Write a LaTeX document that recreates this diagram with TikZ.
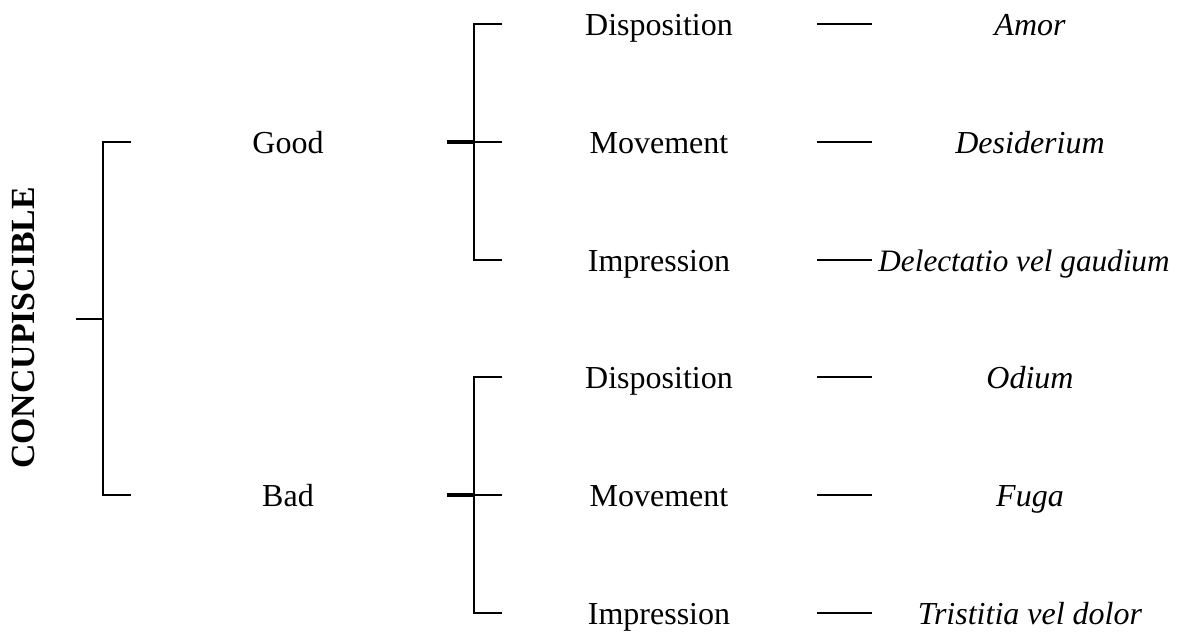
\documentclass[tikz,border=0pt]{standalone}
\usepackage{fontspec}
\setmainfont{Liberation Serif}
\begin{document}
\begin{tikzpicture}[x=0.5pt,y=-0.5pt,
  lbl/.style={inner sep=0pt,anchor=base,font=\fontsize{16}{19}\selectfont},
  latin/.style={lbl,font=\fontsize{16}{19}\selectfont\itshape},
  brk/.style={line width=1.4pt,black},
  stub/.style={line width=1.6pt,black}]
\useasboundingbox (0,0) rectangle (1188,632);
% title
\node[inner sep=0pt,rotate=90,font=\fontsize{16.9}{19}\selectfont\bfseries] (title) at (23,328) {CONCUPISCIBLE};
% level 1
\node[lbl] (good) at (288,153) {Good};
\node[lbl] (bad) at (288,506) {Bad};
% level 2
\node[lbl] (d1) at (659,35) {Disposition};
\node[lbl] (m1) at (659,153) {Movement};
\node[lbl] (i1) at (659,271) {Impression};
\node[lbl] (d2) at (659,388) {Disposition};
\node[lbl] (m2) at (659,506) {Movement};
\node[lbl] (i2) at (659,624) {Impression};
% level 3
\node[latin] (l1) at (1030,35) {Amor};
\node[latin] (l2) at (1030,153) {Desiderium};
\node[latin,font=\fontsize{15.6}{19}\selectfont\itshape] (l3) at (1024,271) {Delectatio vel gaudium};
\node[latin] (l4) at (1030,388) {Odium};
\node[latin] (l5) at (1030,506) {Fuga};
\node[latin] (l6) at (1030,624) {Tristitia vel dolor};
% first bracket
\coordinate (Ls) at (76,319);
\coordinate (Lm) at (103,319);
\coordinate (Lt) at (103,142);
\coordinate (Lb) at (103,495);
\coordinate (LtE) at (131,142);
\coordinate (LbE) at (131,495);
\draw[brk] (LtE) -- (Lt) -- (Lb) -- (LbE);
\draw[brk] (Ls) -- (Lm);
% good bracket
\coordinate (Gs) at (447,142);
\coordinate (Gm) at (474,142);
\coordinate (Gt) at (474,24);
\coordinate (Gb) at (474,260);
\coordinate (GtE) at (502,24);
\coordinate (GmE) at (502,142);
\coordinate (GbE) at (502,260);
\draw[brk] (GtE) -- (Gt) -- (Gb) -- (GbE);
\draw[brk] (Gm) -- (GmE);
\draw[stub] (Gs) -- (Gm);
% bad bracket
\coordinate (Bs) at (447,495);
\coordinate (Bm) at (474,495);
\coordinate (Bt) at (474,377);
\coordinate (Bb) at (474,613);
\coordinate (BtE) at (502,377);
\coordinate (BmE) at (502,495);
\coordinate (BbE) at (502,613);
\draw[brk] (BtE) -- (Bt) -- (Bb) -- (BbE);
\draw[brk] (Bm) -- (BmE);
\draw[stub] (Bs) -- (Bm);
% dashes
\foreach \r/\y in {1/24,2/142,3/260,4/377,5/495,6/613}{
  \coordinate (da\r) at (817,\y);
  \coordinate (db\r) at (872,\y);
  \draw[brk] (da\r) -- (db\r);
}
\end{tikzpicture}
\end{document}
